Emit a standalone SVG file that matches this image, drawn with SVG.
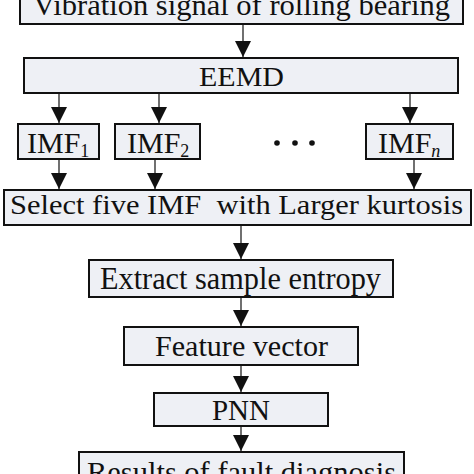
<svg xmlns="http://www.w3.org/2000/svg" width="474" height="474" viewBox="0 0 474 474">
<style>
.box{fill:#eef0f5;stroke:#111;stroke-width:2}
.t{font-family:"Liberation Serif","Times New Roman",serif;font-size:28px;fill:#111}
.big{font-size:30px}
.sub{font-size:18px}
.c{stroke:#111;stroke-width:1.2;fill:none;marker-end:url(#ah)}
</style>
<defs>
<marker id="ah" viewBox="0 0 16 16" refX="16" refY="8" markerWidth="16" markerHeight="16" markerUnits="userSpaceOnUse" orient="auto">
<path d="M0,0 L16,8 L0,16 z" fill="#111"/>
</marker>
</defs>
<rect width="474" height="474" fill="#fff"/>
<g id="connectors">
<line class="c" x1="243" y1="24" x2="243" y2="57"/>
<line class="c" x1="59" y1="93" x2="59" y2="123"/>
<line class="c" x1="159" y1="93" x2="159" y2="123"/>
<line class="c" x1="410" y1="93" x2="410" y2="123"/>
<line class="c" x1="59" y1="159" x2="59" y2="189"/>
<line class="c" x1="155" y1="159" x2="155" y2="189"/>
<line class="c" x1="414" y1="159" x2="414" y2="189"/>
<line class="c" x1="241" y1="225" x2="241" y2="259"/>
<line class="c" x1="241" y1="297" x2="241" y2="326"/>
<line class="c" x1="241" y1="365" x2="241" y2="392"/>
<line class="c" x1="241" y1="426" x2="241" y2="451"/>
</g>
<g id="n-vibration">
<rect class="box" x="20" y="-20" width="443" height="44"/>
<text class="t big" x="33" y="15" textLength="417" lengthAdjust="spacingAndGlyphs">Vibration signal of rolling bearing</text>
</g>
<g id="n-eemd">
<rect class="box" x="24" y="58" width="434" height="35"/>
<text class="t" x="199" y="86" textLength="85" lengthAdjust="spacingAndGlyphs">EEMD</text>
</g>
<g id="n-imf1">
<rect class="box" x="18" y="124" width="81" height="35"/>
<text class="t big" x="27" y="153">IMF<tspan class="sub" dy="4">1</tspan></text>
</g>
<g id="n-imf2">
<rect class="box" x="115" y="124" width="85" height="35"/>
<text class="t big" x="127" y="153">IMF<tspan class="sub" dy="4">2</tspan></text>
</g>
<g id="n-dots">
<circle cx="277" cy="143" r="2.8" fill="#111"/>
<circle cx="295" cy="143" r="2.8" fill="#111"/>
<circle cx="312" cy="143" r="2.8" fill="#111"/>
</g>
<g id="n-imfn">
<rect class="box" x="366" y="124" width="87" height="35"/>
<text class="t big" x="378" y="153">IMF<tspan class="sub" dy="4" font-style="italic">n</tspan></text>
</g>
<g id="n-select">
<rect class="box" x="4" y="190" width="467" height="35"/>
<text class="t" x="10" y="214" textLength="453" lengthAdjust="spacingAndGlyphs" xml:space="preserve">Select five IMF  with Larger kurtosis</text>
</g>
<g id="n-extract">
<rect class="box" x="89" y="260" width="304" height="37"/>
<text class="t" style="font-size:31px" x="100" y="289" textLength="281" lengthAdjust="spacingAndGlyphs">Extract sample entropy</text>
</g>
<g id="n-feature">
<rect class="box" x="124" y="327" width="234" height="38"/>
<text class="t big" x="155" y="356" textLength="173" lengthAdjust="spacingAndGlyphs">Feature vector</text>
</g>
<g id="n-pnn">
<rect class="box" x="154" y="393" width="174" height="33"/>
<text class="t big" x="212" y="420" textLength="58" lengthAdjust="spacingAndGlyphs">PNN</text>
</g>
<g id="n-results">
<rect class="box" x="79" y="452" width="325" height="40"/>
<text class="t big" x="87" y="482" textLength="309" lengthAdjust="spacingAndGlyphs">Results of fault diagnosis</text>
</g>
</svg>
